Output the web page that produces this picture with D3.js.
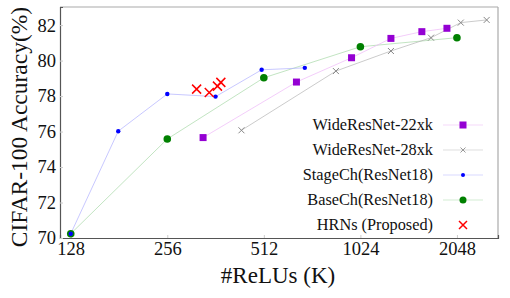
<!DOCTYPE html>
<html>
<head>
<meta charset="utf-8">
<script src="https://cdn.jsdelivr.net/npm/d3@7"></script>
<style>
  body { margin: 0; background: #fff; }
  svg text { font-family: "Liberation Serif", "Times New Roman", Times, "DejaVu Serif", serif !important; fill: #111; }
</style>
</head>
<body>
<svg id="chart" width="510" height="298"></svg>
<script>
// Données
const xTicks = [128, 256, 512, 1024, 2048];
const yTicks = [70, 72, 74, 76, 78, 80, 82];

const wrn22Relus = [331, 647, 961, 1275, 1592, 1906];
const wrn22Acc = [75.66, 78.79, 80.16, 81.25, 81.63, 81.82];

const wrn28Relus = [436, 859, 1275, 1700, 2105, 2535];
const wrn28Acc = [76.07, 79.41, 80.54, 81.29, 82.14, 82.29];

const stageRelus = [128, 180, 256, 362, 504, 687];
const stageAcc = [70.24, 76.02, 78.12, 77.97, 79.48, 79.59];

const baseRelus = [128, 256, 512, 1024, 2048];
const baseAcc = [70.24, 75.58, 79.03, 80.78, 81.29];

const hrnRelus = [316, 346, 367, 376];
const hrnAcc = [78.39, 78.2, 78.56, 78.77];

const seriesNames = ["WideResNet-22xk", "WideResNet-28xk", "StageCh(ResNet18)", "BaseCh(ResNet18)", "HRNs (Proposed)"];

const margin = { left: 60, right: 12, top: 7, bottom: 60 };
const width = 510, height = 298;
const serif = "'Liberation Serif', 'Times New Roman', serif";

const svg = d3.select("#chart");

const x = d3.scaleLog().base(2)
  .domain([118.5, 2750])
  .range([margin.left, width - margin.right]);
const y = d3.scaleLinear()
  .domain([70, 83.02])
  .range([height - margin.bottom, margin.top]);

// Cadre du graphique
const x0 = margin.left, x1 = width - margin.right;
const y0 = height - margin.bottom, y1 = margin.top;
svg.append("line").attr("x1", x0).attr("x2", x1).attr("y1", y1).attr("y2", y1)
  .attr("stroke", "#aaa").attr("stroke-width", 1.2);
svg.append("line").attr("x1", x1).attr("x2", x1).attr("y1", y1).attr("y2", y0)
  .attr("stroke", "#aaa").attr("stroke-width", 1.2);

// Axe X
const xAxis = svg.append("g")
  .attr("transform", `translate(0,${y0})`)
  .attr("font-family", serif)
  .call(d3.axisBottom(x).tickValues(xTicks).tickFormat(d3.format("d")).tickSize(-3).tickPadding(4));
xAxis.select(".domain").attr("stroke", "#555").attr("stroke-width", 1.2);
xAxis.selectAll(".tick line").attr("stroke", "#ccc");
xAxis.selectAll("text").style("font-size", "18.5px").attr("fill", "#111");

// Axe Y
const yAxis = svg.append("g")
  .attr("transform", `translate(${x0},0)`)
  .attr("font-family", serif)
  .call(d3.axisLeft(y).tickValues(yTicks).tickSize(-3).tickPadding(4));
yAxis.select(".domain").attr("stroke", "#555").attr("stroke-width", 1.2);
yAxis.selectAll(".tick line").attr("stroke", "#ccc");
yAxis.selectAll("text").style("font-size", "18.5px").attr("fill", "#111");

// Titres des axes
svg.append("text")
  .attr("x", 278).attr("y", 283)
  .attr("text-anchor", "middle")
  .style("font-size", "23px")
  .text("#ReLUs (K)");
svg.append("text")
  .attr("transform", "translate(27,127) rotate(-90)")
  .attr("text-anchor", "middle")
  .style("font-size", "23.5px")
  .text("CIFAR-100 Accuracy(%)");

const line = d3.line().x(d => x(d[0])).y(d => y(d[1]));
const zip = (a, b) => a.map((v, i) => [v, b[i]]);

// Lignes
const lineStyles = [
  { data: zip(baseRelus, baseAcc), color: "#a8d8a8" },
  { data: zip(stageRelus, stageAcc), color: "#b0b0ff" },
  { data: zip(wrn22Relus, wrn22Acc), color: "#eeb8f8" },
  { data: zip(wrn28Relus, wrn28Acc), color: "#b4b4b4" }
];
lineStyles.forEach(s => {
  svg.append("path").datum(s.data)
    .attr("d", line)
    .attr("fill", "none")
    .attr("stroke", s.color)
    .attr("stroke-width", 0.7);
});

// Marqueurs
function drawSquare(g, cx, cy) {
  g.append("rect").attr("x", cx - 3.5).attr("y", cy - 3.5).attr("width", 7).attr("height", 7)
    .attr("fill", "#9400d3");
}
function drawCross(g, cx, cy, r, color, w) {
  g.append("path")
    .attr("d", `M${cx - r},${cy - r}L${cx + r},${cy + r}M${cx - r},${cy + r}L${cx + r},${cy - r}`)
    .attr("stroke", color).attr("stroke-width", w).attr("fill", "none");
}
function drawDot(g, cx, cy, r, color) {
  g.append("circle").attr("cx", cx).attr("cy", cy).attr("r", r).attr("fill", color);
}

const marks = svg.append("g");
baseRelus.forEach((v, i) => drawDot(marks, x(v), y(baseAcc[i]), 3.8, "#008000"));
stageRelus.forEach((v, i) => drawDot(marks, x(v), y(stageAcc[i]), 2.2, "#0000ff"));
wrn22Relus.forEach((v, i) => drawSquare(marks, x(v), y(wrn22Acc[i])));
wrn28Relus.forEach((v, i) => drawCross(marks, x(v), y(wrn28Acc[i]), 3, "#888", 1));
hrnRelus.forEach((v, i) => drawCross(marks, x(v), y(hrnAcc[i]), 4.5, "#ff0000", 1.5));

// Légende
const legend = svg.append("g");
const legendColors = ["#f0c8f8", "#d0d0d0", "#c8c8ff", "#c0e4c0", null];
seriesNames.forEach((name, i) => {
  const ly = 125 + i * 25;
  legend.append("text")
    .attr("x", 433).attr("y", ly + 5)
    .attr("text-anchor", "end")
    .style("font-size", "16.3px")
    .text(name);
  if (legendColors[i]) {
    legend.append("line").attr("x1", 443).attr("x2", 483).attr("y1", ly).attr("y2", ly)
      .attr("stroke", legendColors[i]).attr("stroke-width", 0.7);
  }
  if (i === 0) drawSquare(legend, 463, ly);
  if (i === 1) drawCross(legend, 463, ly, 2.5, "#999", 1);
  if (i === 2) drawDot(legend, 463, ly, 2, "#0000ff");
  if (i === 3) drawDot(legend, 463, ly, 3.5, "#008000");
  if (i === 4) drawCross(legend, 463, ly, 4, "#ff0000", 1.5);
});
</script>
</body>
</html>
